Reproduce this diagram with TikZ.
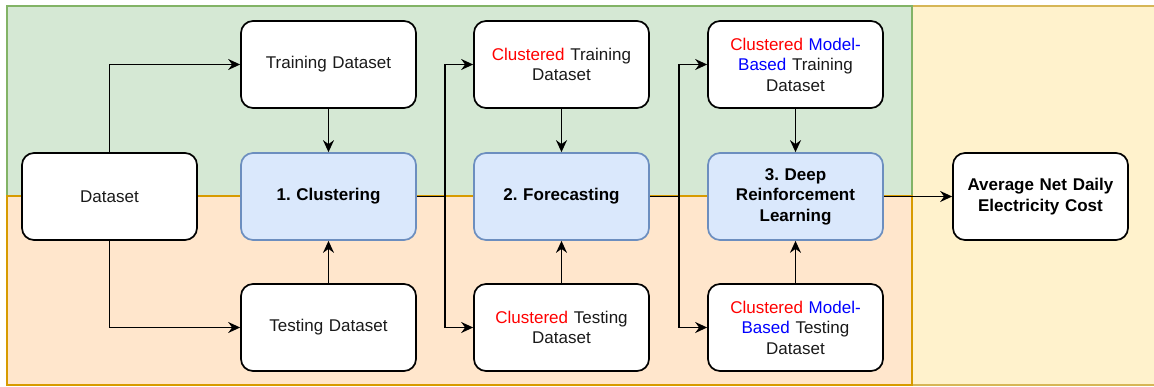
\documentclass[tikz,border=0pt]{standalone}
\usepackage{fontspec}
\setmainfont{Liberation Sans}
\usetikzlibrary{arrows.meta}
\frenchspacing
\definecolor{gfill}{HTML}{D5E8D4}
\definecolor{gline}{HTML}{82B366}
\definecolor{ofill}{HTML}{FFE6CC}
\definecolor{oline}{HTML}{D79B00}
\definecolor{yfill}{HTML}{FFF2CC}
\definecolor{yline}{HTML}{D6B656}
\definecolor{bfill}{HTML}{DAE8FC}
\definecolor{bline}{HTML}{6C8EBF}
\definecolor{txt}{HTML}{1A1A1A}
\newcommand{\rd}[1]{\textcolor[HTML]{FF0000}{#1}}
\newcommand{\bl}[1]{\textcolor[HTML]{0000FF}{#1}}
\tikzset{
  box/.style={draw=black, fill=white, line width=1.7pt, rounded corners=12pt,
    minimum width=175pt, minimum height=87pt, text width=165pt, align=center,
    inner sep=0pt, text=txt, font=\fontsize{17}{20.5}\selectfont},
  stage/.style={box, fill=bfill, draw=bline, text=black, font=\fontsize{17}{20.5}\selectfont\bfseries},
  arr/.style={line width=1.6pt, -{Stealth[length=12pt,width=11pt,inset=4pt]}},
  ln/.style={line width=1.6pt},
}
\begin{document}
\begin{tikzpicture}[x=1pt,y=-1pt]
\useasboundingbox (0,0) rectangle (1154,386);
\clip (0,0) rectangle (1154,386);
% backgrounds
\fill[yfill] (912,6) rectangle (1160,385);
\draw[yline, line width=1.6pt] (912,6) -- (1160,6) (912,385) -- (1160,385);
\fill[gfill] (7,6) rectangle (912,196);
\fill[ofill] (7,196) rectangle (912,385);
\draw[gline, line width=1.6pt] (7,196) -- (7,6) -- (912,6) -- (912,196) -- cycle;
\draw[oline, line width=1.6pt] (7,196) rectangle (912,385);
% nodes
\node[box] (ds) at (109.5,196.5) {Dataset};
\node[box] (tr) at (328.5,64.5) {Training Dataset};
\node[stage] (cl) at (328.5,196.5) {1. Clustering};
\node[box] (te) at (328.5,327.5) {Testing Dataset};
\node[box] (ctr) at (561.5,64.5) {\rd{Clustered} Training\\Dataset};
\node[stage] (fc) at (561.5,196.5) {2. Forecasting};
\node[box] (cte) at (561.5,327.5) {\rd{Clustered} Testing\\Dataset};
\node[box] (mtr) at (795.5,64.5) {\rd{Clustered} \bl{Model-}\\\bl{Based} Training\\Dataset};
\node[stage] (drl) at (795.5,196.5) {3. Deep\\Reinforcement\\Learning};
\node[box] (mte) at (795.5,327.5) {\rd{Clustered} \bl{Model-}\\\bl{Based} Testing\\Dataset};
\node[box, font=\fontsize{17}{20.5}\selectfont\bfseries, text=black] (out) at (1040.5,196.5) {Average Net Daily\\Electricity Cost};
% junctions
\coordinate (j1) at (445,196.5);
\coordinate (j2) at (679,196.5);
% connectors
\draw[arr] (ds.north) |- (tr.west);
\draw[arr] (ds.south) |- (te.west);
\draw[arr] (tr) -- (cl);
\draw[arr] (te) -- (cl);
\draw[ln] (cl.east) -- (j1);
\draw[arr] (j1) |- (ctr.west);
\draw[arr] (j1) |- (cte.west);
\draw[arr] (ctr) -- (fc);
\draw[arr] (cte) -- (fc);
\draw[ln] (fc.east) -- (j2);
\draw[arr] (j2) |- (mtr.west);
\draw[arr] (j2) |- (mte.west);
\draw[arr] (mtr) -- (drl);
\draw[arr] (mte) -- (drl);
\draw[arr] (drl) -- (out);
\end{tikzpicture}
\end{document}
